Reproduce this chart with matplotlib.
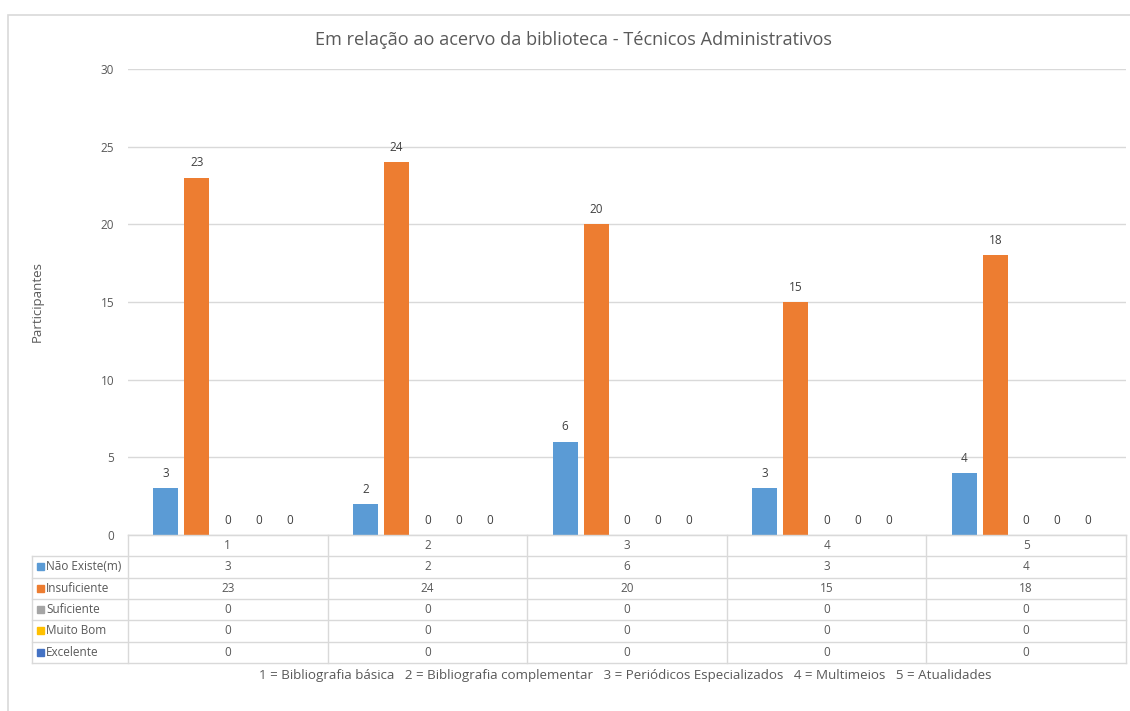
import matplotlib
matplotlib.use("Agg")
import matplotlib.pyplot as plt
from matplotlib.patches import Rectangle
from matplotlib.lines import Line2D

plt.rcParams['font.family'] = ['Open Sans', 'DejaVu Sans']

# dados
categorias = ['1', '2', '3', '4', '5']
series = ['Não Existe(m)', 'Insuficiente', 'Suficiente', 'Muito Bom', 'Excelente']
nao_existe = [3, 2, 6, 3, 4]
insuficiente = [23, 24, 20, 15, 18]
suficiente = [0, 0, 0, 0, 0]
muito_bom = [0, 0, 0, 0, 0]
excelente = [0, 0, 0, 0, 0]
valores = [nao_existe, insuficiente, suficiente, muito_bom, excelente]
cores = ['#5B9BD5', '#ED7D31', '#A5A5A5', '#FFC000', '#4472C4']

titulo = 'Em relação ao acervo da biblioteca - Técnicos Administrativos'
rodape = ('1 = Bibliografia básica   2 = Bibliografia complementar   '
          '3 = Periódicos Especializados   4 = Multimeios   5 = Atualidades')

W, H = 1130, 711
fig = plt.figure(figsize=(W / 100, H / 100), dpi=100)

def fx(px):
    return px / W

def fy(py):
    return (H - py) / H

# borda do gráfico
fig.patches.append(Rectangle((fx(7.5), fy(1000)), fx(1200), fy(14.5) - fy(1000),
                             transform=fig.transFigure, fill=False,
                             edgecolor='#d9d9d9', linewidth=1.2))

ax_l, ax_r, ax_t, ax_b = 128, 1126, 69, 535
ax = fig.add_axes([fx(ax_l), fy(ax_b), fx(ax_r - ax_l), fy(ax_t) - fy(ax_b)])

passo = 0.155
largura = 0.125
xs = range(len(categorias))
for i, (nome, vals, cor) in enumerate(zip(series, valores, cores)):
    pos = [x + (i - 2) * passo for x in xs]
    ax.bar(pos, vals, width=largura, color=cor, zorder=3)
    for p, v in zip(pos, vals):
        ax.annotate(str(v), (p, v), xytext=(0, 6), textcoords='offset points',
                    ha='center', va='bottom', fontsize=8.5, color='#404040')

ax.set_xlim(-0.5, len(categorias) - 0.5)
ax.set_ylim(0, 30)
ax.set_yticks(range(0, 31, 5))
ax.yaxis.grid(True, color='#d9d9d9', linewidth=1)
ax.set_axisbelow(True)
ax.tick_params(axis='y', length=0, pad=10, labelsize=8.5, labelcolor='#595959')
ax.set_xticks([])
for s in ['top', 'right', 'left']:
    ax.spines[s].set_visible(False)
ax.spines['bottom'].set_color('#d9d9d9')
ax.set_ylabel('Participantes', fontsize=9.5, color='#595959', labelpad=41)

fig.text(fx(573), fy(40), titulo, ha='center', va='center', fontsize=13.1,
         color='#595959')

# tabela de dados
col_x = [ax_l + k * (ax_r - ax_l) / len(categorias) for k in range(len(categorias) + 1)]
lab_l = 32
row_y = [535 + k * 21.3 for k in range(len(series) + 2)]
cinza = '#d9d9d9'

def linha(x0, y0, x1, y1):
    fig.lines.append(Line2D([fx(x0), fx(x1)], [fy(y0), fy(y1)],
                            transform=fig.transFigure, color=cinza, linewidth=1))

# linhas horizontais
linha(col_x[0], row_y[0], col_x[-1], row_y[0])
for y in row_y[1:]:
    linha(lab_l, y, col_x[-1], y)
# linhas verticais
for x in col_x:
    linha(x, row_y[0], x, row_y[-1])
linha(lab_l, row_y[1], lab_l, row_y[-1])

for j, c in enumerate(categorias):
    xc = (col_x[j] + col_x[j + 1]) / 2
    fig.text(fx(xc), fy((row_y[0] + row_y[1]) / 2), c, ha='center', va='center',
             fontsize=8.5, color='#595959')

for i, (nome, vals, cor) in enumerate(zip(series, valores, cores)):
    yc = (row_y[i + 1] + row_y[i + 2]) / 2
    fig.patches.append(Rectangle((fx(37), fy(yc + 3.5)), fx(7), fy(yc - 3.5) - fy(yc + 3.5),
                                 transform=fig.transFigure, color=cor))
    fig.text(fx(46), fy(yc), nome, ha='left', va='center', fontsize=8.5,
             color='#595959')
    for j, v in enumerate(vals):
        xc = (col_x[j] + col_x[j + 1]) / 2
        fig.text(fx(xc), fy(yc), str(v), ha='center', va='center', fontsize=8.5,
                 color='#595959')

fig.text(fx(625), fy(676), rodape, ha='center', va='center', fontsize=9.6,
         color='#595959')

fig.savefig('out.png', dpi=100)
